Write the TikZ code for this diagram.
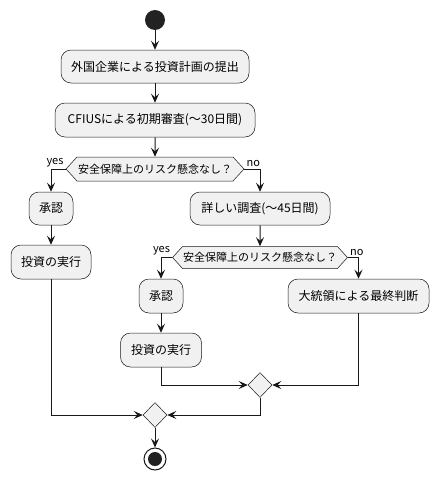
\documentclass[tikz,border=0pt]{standalone}
\usepackage{fontspec}
\setmainfont{Noto Sans CJK JP}
\usetikzlibrary{arrows.meta,shapes.geometric,shapes.symbols}
\definecolor{boxfill}{HTML}{F1F1F1}
\definecolor{lc}{HTML}{181818}
\definecolor{dot}{HTML}{222222}
\tikzset{
  act/.style={rectangle, rounded corners=10pt, draw=lc, line width=0.5pt, fill=boxfill,
    minimum height=33pt, inner sep=0pt, font=\fontsize{12}{14}\selectfont},
  dec/.style={signal, signal to=west and east, signal pointer angle=95, draw=lc, line width=0.5pt,
    fill=boxfill, minimum height=24pt, inner sep=0pt, font=\fontsize{11}{13}\selectfont},
  merge/.style={diamond, draw=lc, line width=0.5pt, fill=boxfill, minimum width=24pt,
    minimum height=25pt, inner sep=0pt},
  flow/.style={draw=lc, line width=1pt, -{Stealth[length=9pt,width=8pt,inset=3.5pt]}},
  lbl/.style={font=\fontsize{11}{13}\selectfont, inner sep=1pt}
}
\begin{document}
\begin{tikzpicture}[x=1pt,y=-1pt]
\useasboundingbox[fill=white] (0,0) rectangle (439,479);
\node[circle, fill=dot, minimum size=20pt, inner sep=0pt] (s) at (155,20) {};
\node[act, minimum width=188pt] (b1) at (155,66.5) {外国企業による投資計画の提出};
\node[act, minimum width=200pt, minimum height=34pt] (b2) at (155,120) {CFIUSによる初期審査(〜30日間)};
\node[dec, minimum width=178pt] (d1) at (155,169) {安全保障上のリスク懸念なし？};
\node[act, minimum width=44pt] (a1) at (51,208.5) {承認};
\node[act, minimum width=80pt, minimum height=34pt] (e1) at (51,262) {投資の実行};
\node[act, minimum width=140pt] (c1) at (260,208.5) {詳しい調査(〜45日間)};
\node[dec, minimum width=175pt, minimum height=22pt] (d2) at (260,257.5) {安全保障上のリスク懸念なし？};
\node[act, minimum width=44pt, minimum height=34pt] (a2) at (161,296) {承認};
\node[act, minimum width=81pt, minimum height=34pt] (e2) at (161,350) {投資の実行};
\node[act, minimum width=141pt, minimum height=34pt] (p) at (358.5,296) {大統領による最終判断};
\node[merge] (m1) at (260,385) {};
\node[merge] (m2) at (155,415) {};
\node[circle, draw=lc, line width=1pt, fill=white, minimum size=22pt, inner sep=0pt] (t) at (155,459) {};
\node[circle, fill=dot, minimum size=14pt, inner sep=0pt] (tin) at (t.center) {};

\draw[flow] (s) -- (b1);
\draw[flow] (b1) -- (b2);
\draw[flow] (b2) -- (d1);
\draw[flow] (d1.west) -| (a1.north);
\draw[flow] (d1.east) -| (c1.north);
\node[lbl, anchor=south east] at ([xshift=-1pt,yshift=1pt]d1.west) {yes};
\node[lbl, anchor=south west] at ([xshift=1pt,yshift=1pt]d1.east) {no};
\draw[flow] (a1) -- (e1);
\draw[flow] (c1) -- (d2);
\draw[flow] (d2.west) -| (a2.north);
\draw[flow] (d2.east) -| (p.north);
\node[lbl, anchor=south east] at ([xshift=-1pt,yshift=1pt]d2.west) {yes};
\node[lbl, anchor=south west] at ([xshift=1pt,yshift=1pt]d2.east) {no};
\draw[flow] (a2) -- (e2);
\draw[flow] (e2.south) |- (m1.west);
\draw[flow] (p.south) |- (m1.east);
\draw[flow] (e1.south) |- (m2.west);
\draw[flow] (m1.south) |- (m2.east);
\draw[flow] (m2) -- (t);
\end{tikzpicture}
\end{document}
